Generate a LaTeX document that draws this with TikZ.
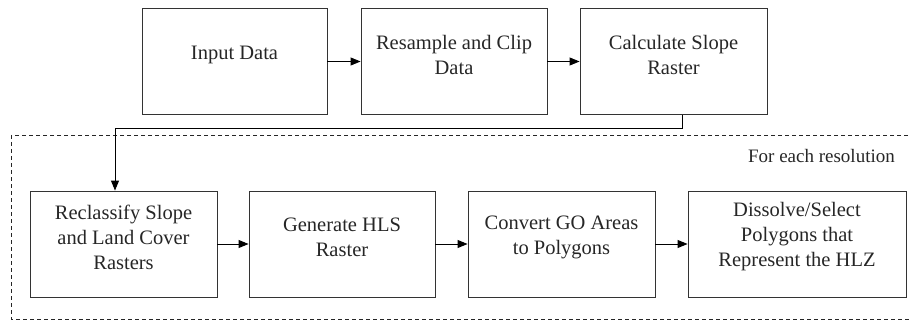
\documentclass[tikz,border=0pt]{standalone}
\usepackage{fontspec}
\setmainfont{Liberation Serif}
\usetikzlibrary{calc,arrows.meta}
\begin{document}
\begin{tikzpicture}[x=1pt,y=-1pt,
  box/.style={draw=black!80,line width=0.9pt,minimum height=106pt,inner sep=0pt},
  lbl/.style={align=center,font=\fontsize{20.5}{25}\selectfont,text=black!85,inner sep=0pt},
  arr/.style={draw=black,line width=0.9pt,-{Triangle[length=10pt,width=8pt]}},
  frame/.style={draw=black!85,line width=0.9pt,dash pattern=on 4pt off 3pt}]
\useasboundingbox (0,0) rectangle (909,323);
\draw[frame] (11,135) rectangle (916,319);
\node[font=\fontsize{19}{22}\selectfont,text=black!85,anchor=base east,inner sep=0pt] (res) at (895,163) {For each resolution};
% top row
\node[box,minimum width=185pt] (b1) at (234.5,61.5) {};
\node[box,minimum width=186pt] (b2) at (454,61.5) {};
\node[box,minimum width=187pt] (b3) at (673.5,61.5) {};
% bottom row
\node[box,minimum width=187pt] (b4) at (123.5,244) {};
\node[box,minimum width=186pt] (b5) at (342,244) {};
\node[box,minimum width=187pt] (b6) at (561.5,244) {};
\node[box,minimum width=218pt] (b7) at (797,244) {};
% labels
\node[lbl] (t1) at ($(b1.center)+(0,-7)$) {Input Data};
\node[lbl] (t2) at ($(b2.center)+(0,-7)$) {Resample and Clip\\Data};
\node[lbl] (t3) at ($(b3.center)+(0,-7)$) {Calculate Slope\\Raster};
\node[lbl] (t4) at ($(b4.center)+(0,-7)$) {Reclassify Slope\\and Land Cover\\Rasters};
\node[lbl] (t5) at ($(b5.center)+(0,-7)$) {Generate HLS\\Raster};
\node[lbl] (t6) at ($(b6.center)+(0,-7)$) {Convert GO Areas\\to Polygons};
\node[lbl] (t7) at ($(b7.center)+(0,-7)$) {Dissolve/Select\\Polygons that\\Represent the HLZ};
% connectors
\draw[arr] (b1.east) -- (b2.west);
\draw[arr] (b2.east) -- (b3.west);
\coordinate (c1) at ($(b3.south)+(8.5,0)$);
\coordinate (c2) at ($(b4.north)+(-8.5,0)$);
\draw[arr] (c1) -- (c1 |- 0,128) -- (c2 |- 0,128) -- (c2);
\draw[arr] (b4.east) -- (b5.west);
\draw[arr] (b5.east) -- (b6.west);
\draw[arr] (b6.east) -- (b7.west);
\end{tikzpicture}
\end{document}
